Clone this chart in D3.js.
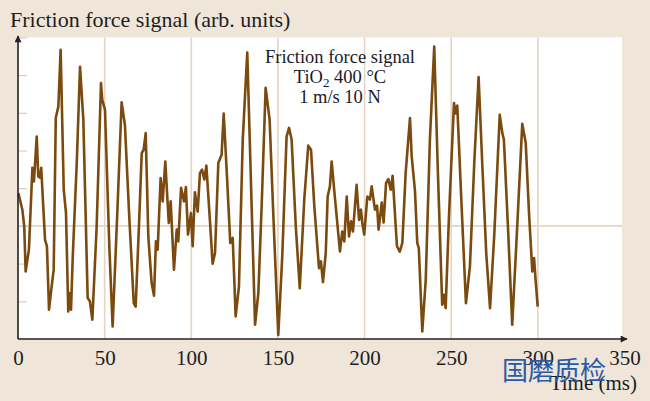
<!DOCTYPE html>
<html><head><meta charset="utf-8">
<script src="https://cdn.jsdelivr.net/npm/d3@7/dist/d3.min.js"></script>
<style>
html,body{margin:0;padding:0;background:#efe5d9;}
svg{display:block;}
</style></head>
<body>
<svg id="chart" width="650" height="401"></svg>
<script>
// ---- data ----
const xTicks = [0, 50, 100, 150, 200, 250, 300, 350];
const yTicks = [-2, -1, 0, 1, 2, 3, 4, 5];
const yTitle = "Friction force signal (arb. units)";
const xTitle = "Time (ms)";
const noteLines = ["Friction force signal", "TiO|2| 400 °C", "1 m/s 10 N"];
const watermark = "国磨质检";

const times = [0.2,2.5,3.6,4.4,6.3,8.3,9.2,10.8,11.7,12.7,13.4,15.6,16.7,17.9,19.4,20.6,21.8,23.3,24.6,26.4,
27.7,29.0,29.6,30.6,31.6,33.9,35.8,37.7,40.2,41.5,42.9,45.4,47.9,48.6,50.2,52.7,54.6,57.3,59.8,61.7,
64.1,66.8,67.9,69.8,71.4,72.5,73.7,75.2,77.1,78.5,79.6,80.6,82.3,83.5,85.0,87.0,88.1,90.0,91.6,92.5,
94.1,95.8,96.9,98.1,99.8,100.8,102.1,103.7,105.0,106.2,107.5,108.7,110.6,112.3,113.7,115.6,117.5,118.7,120.5,122.5,
123.9,125.6,127.5,129.7,132.3,134.5,136.8,138.7,140.6,142.9,145.2,147.3,150.2,152.5,155.0,156.4,157.9,160.3,162.6,165.2,
167.5,169.1,171.0,173.7,174.8,176.0,177.6,178.7,180.0,181.0,182.9,185.8,187.1,188.3,189.7,191.0,192.2,193.3,195.4,196.8,
197.9,198.7,199.8,201.6,203.1,204.1,206.0,207.2,208.1,209.9,211.0,212.4,213.7,215.1,216.2,217.5,218.7,220.3,221.8,223.7,
226.2,227.2,229.1,230.4,231.3,233.3,235.3,237.7,240.2,242.2,244.8,245.8,246.8,248.7,251.6,252.6,253.5,256.0,258.5,260.8,
263.3,265.8,267.9,270.2,272.4,274.8,278.0,279.5,280.4,282.9,285.2,287.9,291.0,293.0,294.9,296.8,297.8,298.7,299.9];
const signal = [0.87,0.43,-0.01,-1.21,-0.63,1.54,1.18,2.37,1.31,1.28,1.54,-0.37,-0.54,-2.22,-1.61,-1.16,2.86,3.17,4.67,0.96,
0.34,-2.27,-1.78,-2.22,-0.81,1.67,4.22,2.82,-1.91,-2.00,-2.49,-0.01,3.79,3.35,3.08,-0.54,-2.67,0.34,3.28,2.68,
0.34,-2.05,-2.14,-0.01,1.93,2.02,2.46,-0.28,-1.51,-1.85,-0.41,-0.63,1.27,0.65,1.71,0.08,0.65,-1.16,-0.10,-0.41,
1.01,0.65,1.03,-0.23,0.34,-0.54,0.89,0.38,1.40,1.49,1.23,1.60,0.25,-1.00,-0.72,1.67,1.89,2.98,1.40,-0.45,
-0.32,-2.40,-1.61,2.29,4.60,1.05,-2.62,-1.78,0.52,3.66,2.82,0.34,-2.89,-0.81,2.37,2.60,2.29,-0.01,-1.65,0.70,
2.13,2.02,0.52,-1.12,-0.94,-1.49,-0.72,0.78,1.05,1.71,0.74,-0.68,-0.15,-0.41,0.78,-0.28,0.12,-0.15,1.09,0.16,
0.43,0.08,-0.23,0.78,0.70,1.05,0.43,0.54,-0.10,0.62,0.09,1.14,1.24,0.96,1.33,0.34,-0.54,-0.68,-0.45,1.40,
2.86,1.84,0.92,-0.45,-0.59,-2.80,-1.43,2.29,4.76,1.58,-2.09,-1.83,-2.18,0.25,3.26,2.98,3.19,0.52,-2.05,-1.07,
1.67,3.95,1.67,-0.72,-2.18,-0.28,2.95,2.46,2.29,-0.19,-2.62,-0.19,2.71,2.20,0.34,-1.21,-0.85,-1.43,-2.14];

// ---- chart ----
const svg = d3.select("#chart");
const serif = "'Liberation Serif','Times New Roman',serif";
const x = d3.scaleLinear().domain([0, 350]).range([18, 624.5]);
const y = d3.scaleLinear().domain([-3, 5]).range([339, 37.4]);
const plotRight = 622;

// white plot area
svg.append("rect")
  .attr("x", x(0)).attr("y", y(5))
  .attr("width", plotRight - x(0)).attr("height", y(-3) - y(5))
  .attr("fill", "#ffffff");

// vertical grid lines
svg.append("g").selectAll("line")
  .data(xTicks.filter(d => d > 0 && d < 350))
  .join("line")
  .attr("x1", d => x(d)).attr("x2", d => x(d))
  .attr("y1", y(5)).attr("y2", y(-3))
  .attr("stroke", "#e6d4c2").attr("stroke-width", 1.6);

// horizontal zero line
svg.append("line")
  .attr("x1", x(0)).attr("x2", plotRight)
  .attr("y1", y(0)).attr("y2", y(0))
  .attr("stroke", "#e6d4c2").attr("stroke-width", 1.6);

// y ticks (short light marks)
const yAxis = svg.append("g")
  .attr("transform", `translate(${x(0)},0)`)
  .call(d3.axisRight(y).tickValues(yTicks).tickSize(9).tickFormat(""));
yAxis.select(".domain").remove();
yAxis.selectAll(".tick line").attr("stroke", "#d6cdc4").attr("stroke-width", 1.2);

// signal line
svg.append("path")
  .datum(times.map((t, i) => [t, signal[i]]))
  .attr("fill", "none")
  .attr("stroke", "#7a4a0e")
  .attr("stroke-width", 2.6)
  .attr("stroke-linejoin", "round")
  .attr("d", d3.line().x(d => x(d[0])).y(d => y(d[1])));

// x axis with labels
const xAxis = svg.append("g")
  .attr("transform", `translate(0,${y(-3)})`)
  .call(d3.axisBottom(x).tickValues(xTicks).tickSize(0).tickFormat(d3.format("d")));
xAxis.select(".domain").remove();
xAxis.selectAll(".tick text")
  .attr("y", 26).attr("dy", 0)
  .attr("font-family", serif).attr("font-size", 21).attr("fill", "#1e1e22");

// axis lines with arrows
svg.append("defs").append("marker")
  .attr("id", "arr").attr("viewBox", "0 0 10 10")
  .attr("refX", 9).attr("refY", 5)
  .attr("markerWidth", 9).attr("markerHeight", 7)
  .attr("markerUnits", "userSpaceOnUse")
  .attr("orient", "auto")
  .append("path").attr("d", "M0,0L10,5L0,10z").attr("fill", "#222");

svg.append("line")
  .attr("x1", x(0)).attr("y1", y(-3)).attr("x2", 627).attr("y2", y(-3))
  .attr("stroke", "#222").attr("stroke-width", 1.6).attr("marker-end", "url(#arr)");
svg.append("line")
  .attr("x1", x(0)).attr("y1", y(-3)).attr("x2", x(0)).attr("y2", 36)
  .attr("stroke", "#222").attr("stroke-width", 1.6).attr("marker-end", "url(#arr)");

// titles
svg.append("text").attr("x", 10).attr("y", 27)
  .attr("font-family", serif).attr("font-size", 22).attr("fill", "#1e1e22")
  .text(yTitle);
svg.append("text").attr("x", 637).attr("y", 390).attr("text-anchor", "end")
  .attr("font-family", serif).attr("font-size", 21).attr("fill", "#1e1e22")
  .text(xTitle);

// annotation
const note = svg.append("g").attr("font-family", serif).attr("font-size", 18.5)
  .attr("fill", "#1a1a2a").attr("text-anchor", "middle");
noteLines.forEach((ln, i) => {
  const t = note.append("text").attr("x", 340).attr("y", 63 + i * 20.2);
  ln.split("|").forEach((part, j) => {
    const ts = t.append("tspan").text(part);
    if (j === 1) ts.attr("font-size", 13).attr("dy", 4);
    if (j === 2) ts.attr("dy", -4);
  });
});

// watermark
svg.append("text").attr("x", 502).attr("y", 380)
  .attr("font-family", "'Noto Sans CJK SC',sans-serif").attr("font-size", 26)
  .attr("fill", "#2a5aa6").text(watermark);
</script>
</body></html>
